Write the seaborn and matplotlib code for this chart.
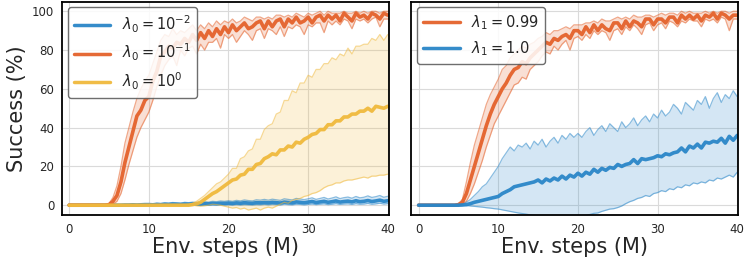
import numpy as np
import pandas as pd
import seaborn as sns
import matplotlib
matplotlib.use("Agg")
import matplotlib.pyplot as plt

# env steps in millions, one point every 0.5M
steps = np.arange(0, 40.5, 0.5)

# ---- left panel: lambda_0 sweep ----
# lambda_0 = 1e-2
l0_a_mean = [0] * 10 + [
    0, 0, 0, 0, 0.1, 0.1, 0.2, 0.1, 0.2, 0.3,
    0.3, 0.2, 0.4, 0.3, 0.5, 0.4, 0.6, 0.5, 0.4, 0.6,
    0.5, 0.7, 0.6, 0.5, 0.8, 0.7, 0.9, 0.8, 1.0, 0.9,
    1.1, 0.9, 1.2, 1.0, 1.3, 1.1, 1.0, 1.3, 1.2, 1.4,
    1.2, 1.5, 1.3, 1.1, 1.6, 1.4, 1.2, 1.7, 1.5, 1.3,
    1.6, 1.9, 1.4, 1.7, 2.0, 1.5, 1.8, 2.2, 1.6, 1.9,
    2.1, 1.7, 2.3, 1.8, 2.0, 2.4, 1.9, 2.2, 2.6, 2.0,
    2.3]
l0_a_lo = [0] * 20 + [
    0, 0, 0, 0, 0, 0, 0.1, 0, 0, 0.1,
    0, 0.1, 0, 0, 0.1, 0, 0.2, 0.1, 0.2, 0.1,
    0.2, 0.1, 0.3, 0.1, 0.3, 0.2, 0.1, 0.3, 0.2, 0.4,
    0.2, 0.4, 0.3, 0.1, 0.5, 0.3, 0.2, 0.5, 0.4, 0.2,
    0.4, 0.6, 0.3, 0.5, 0.7, 0.3, 0.5, 0.8, 0.4, 0.6,
    0.7, 0.4, 0.8, 0.5, 0.6, 0.9, 0.5, 0.7, 1.0, 0.6,
    0.8]
l0_a_hi = [0] * 10 + [
    0, 0, 0.1, 0.2, 0.3, 0.3, 0.5, 0.4, 0.6, 0.7,
    0.8, 0.6, 1.0, 0.8, 1.2, 1.0, 1.4, 1.2, 1.0, 1.5,
    1.3, 1.6, 1.4, 1.2, 1.8, 1.6, 2.0, 1.8, 2.2, 2.0,
    2.3, 2.0, 2.5, 2.2, 2.7, 2.4, 2.2, 2.8, 2.6, 3.0,
    2.6, 3.1, 2.8, 2.5, 3.3, 3.0, 2.7, 3.5, 3.2, 2.9,
    3.3, 3.8, 3.0, 3.5, 4.0, 3.2, 3.7, 4.3, 3.4, 3.9,
    4.2, 3.6, 4.5, 3.8, 4.1, 4.8, 4.0, 4.4, 5.0, 4.1,
    4.6]

# lambda_0 = 1e-1
l0_b_mean = [0] * 10 + [
    0.3, 2, 5, 12, 22, 30, 38, 46, 49, 54,
    56, 64, 69, 77, 79, 82, 81, 84, 83, 86,
    84, 88, 85, 89, 86, 90, 87, 91, 88, 92,
    89, 93, 90, 92, 94, 91, 92, 94, 95, 91,
    95, 92, 95, 96, 92, 96, 94, 97, 94, 95,
    97, 94, 97, 98, 95, 98, 96, 98, 95, 99,
    97, 95, 99, 97, 98, 96, 99, 98, 96, 99,
    98]
l0_b_lo = [0] * 10 + [
    0, 0.5, 2, 6, 13, 21, 28, 35, 40, 44,
    48, 54, 61, 67, 72, 75, 77, 72, 80, 77,
    81, 82, 78, 83, 80, 84, 84, 86, 81, 88,
    86, 88, 84, 87, 90, 88, 85, 90, 91, 86,
    91, 90, 88, 92, 87, 92, 91, 93, 92, 88,
    93, 92, 94, 94, 89, 95, 93, 95, 93, 96,
    95, 91, 96, 95, 96, 94, 96, 97, 92, 96,
    96]
l0_b_hi = [0] * 10 + [
    0.8, 4, 10, 20, 32, 40, 48, 55, 60, 64,
    67, 73, 79, 85, 88, 87, 91, 88, 90, 89,
    91, 93, 90, 93, 91, 94, 92, 95, 93, 95,
    94, 96, 94, 95, 97, 96, 95, 97, 97, 96,
    97, 96, 98, 98, 97, 98, 97, 99, 98, 97,
    99, 98, 99, 100, 98, 100, 99, 99, 99, 100,
    99, 99, 100, 99, 100, 99, 100, 100, 99, 100,
    100]

# lambda_0 = 1e0
l0_c_mean = [0] * 30 + [
    0, 0.3, 0.8, 1.5, 3, 4.5, 6, 7, 8.5, 10,
    11.5, 13, 13.5, 15.5, 16, 18.5, 18.5, 21, 21.5, 24,
    25, 26.5, 26, 28.5, 28.5, 30.5, 30, 32.5, 32, 34,
    35, 36.5, 37, 39, 39, 41.5, 41.5, 43.5, 43.5, 45.5,
    45.5, 47, 47, 48.5, 48.5, 50, 48.5, 51, 50.5, 50,
    51]
l0_c_lo = [0] * 30 + [
    0, 0, -0.3, -0.5, -0.3, 0, 0.5, 0.3, 0, -0.5,
    -1, -1.5, -1.2, -2, -1.5, -2.5, -2, -1.5, -2.5, -1.5,
    -1, -1.5, -0.5, 0.5, 1.5, 1, 2.5, 3, 3.5, 4.5,
    5, 6, 6.5, 7.5, 9, 10, 10.5, 11.5, 11.5, 12.5,
    13, 13, 13.5, 14, 14.5, 14, 15, 15, 15.5, 15.5,
    16]
l0_c_hi = [0] * 28 + [0.2, 0.3] + [
    0.5, 1, 2, 3.5, 5, 7, 9, 11, 12, 14,
    16, 19, 19, 24, 25, 28, 29, 34, 34, 39,
    41, 42, 47, 48, 54, 54, 59, 58, 63, 63,
    67, 66, 70, 70, 73, 73, 76, 75, 78, 77,
    81, 78, 82, 82, 83, 83, 86, 85, 88, 85,
    88]

# ---- right panel: lambda_1 sweep ----
# lambda_1 = 0.99
l1_a_mean = [0] * 10 + [
    0.3, 1.5, 6, 13, 20, 27, 34, 41, 47, 52,
    56, 60, 63, 67, 70, 71, 74, 73, 76, 78,
    80, 82, 84, 83, 86, 85, 87, 88, 86, 90,
    90, 88, 92, 89, 93, 90, 93, 91, 90, 94,
    94, 91, 95, 92, 95, 94, 92, 96, 96, 93,
    96, 96, 94, 97, 97, 94, 98, 96, 98, 96,
    98, 95, 98, 97, 99, 96, 99, 98, 96, 98,
    98]
l1_a_lo = [0] * 10 + [
    0, 0.5, 2, 6, 11, 17, 23, 30, 36, 42,
    46, 50, 54, 58, 62, 63, 66, 65, 70, 72,
    74, 77, 79, 78, 82, 80, 83, 85, 80, 86,
    87, 85, 88, 86, 90, 88, 90, 89, 85, 90,
    91, 88, 92, 90, 93, 91, 88, 93, 94, 90,
    93, 94, 91, 95, 94, 92, 95, 94, 96, 95,
    95, 92, 96, 95, 96, 94, 97, 96, 90, 96,
    96]
l1_a_hi = [0] * 10 + [
    0.8, 3, 12, 22, 31, 38, 45, 52, 57, 61,
    65, 70, 72, 76, 78, 80, 82, 81, 83, 84,
    86, 87, 89, 88, 90, 90, 91, 92, 91, 93,
    93, 93, 94, 94, 95, 94, 96, 95, 95, 96,
    97, 96, 97, 96, 98, 97, 97, 98, 98, 97,
    98, 99, 98, 99, 99, 98, 100, 99, 100, 99,
    99, 99, 100, 99, 100, 99, 100, 100, 99, 100,
    100]

# lambda_1 = 1.0
l1_b_mean = [0] * 10 + [
    0, 0.1, 0.3, 0.8, 1.5, 2, 2.5, 3, 3.5, 4,
    4.5, 6, 7, 8, 9.5, 10, 10.5, 11, 11.5, 12,
    13, 11.5, 13.5, 12.5, 14, 13, 15, 13.5, 15.5, 14.5,
    16.5, 15, 17, 16, 18.5, 17, 19, 18, 19.5, 19,
    21, 20, 21, 21.5, 23.5, 21.5, 24, 23.5, 24, 24.5,
    25.5, 25, 26.5, 26, 27, 27.5, 29.5, 27.5, 30.5, 29.5,
    31.5, 29.5, 32.5, 32, 33, 32.5, 34.5, 32, 35.5, 33.5,
    36]
l1_b_lo = [0] * 10 + [
    0, 0, -0.2, -0.4, -0.6, -0.8, -1, -1.3, -1.5, -1.8,
    -2, -2.4, -2.8, -3.2, -3.6, -4, -4.3, -4.6, -5, -5.3,
    -5.6, -5.8, -6, -6.2, -6.3, -6.4, -6.5, -6.4, -6.3, -6,
    -6, -5.8, -5.4, -4.8, -4.2, -4, -3.2, -2.6, -2, -1.8,
    -1.2, -0.4, 0.8, 1.8, 2.5, 3.5, 4, 5, 4.5, 6,
    6.5, 7.5, 7, 8.5, 8, 9.5, 9, 10.5, 10, 11.5,
    11, 12, 11.5, 13, 12.5, 14, 13.5, 14.5, 15.5, 14.5,
    17]
l1_b_hi = [0] * 10 + [
    0, 0.5, 1.5, 3, 5, 7, 9.5, 11, 14, 17,
    20, 24, 27, 30, 28, 31, 30, 32, 29, 33,
    31, 34, 30, 33, 35, 32, 36, 34, 37, 35,
    37, 35, 38, 40, 36, 39, 41, 38, 42, 40,
    38, 43, 40, 42, 45, 41, 44, 46, 43, 47,
    45, 49, 46, 48, 52, 50, 47, 53, 51, 49,
    54, 52, 56, 50, 55, 58, 53, 57, 55, 59,
    56]

blue = "#2a86c8"
orange = "#e4622b"
yellow = "#f0b93c"

left_series = [
    (r"$\lambda_0 = 10^{-2}$", blue, l0_a_mean, l0_a_lo, l0_a_hi),
    (r"$\lambda_0 = 10^{-1}$", orange, l0_b_mean, l0_b_lo, l0_b_hi),
    (r"$\lambda_0 = 10^{0}$", yellow, l0_c_mean, l0_c_lo, l0_c_hi),
]
right_series = [
    (r"$\lambda_1 = 0.99$", orange, l1_a_mean, l1_a_lo, l1_a_hi),
    (r"$\lambda_1 = 1.0$", blue, l1_b_mean, l1_b_lo, l1_b_hi),
]

sns.set_style("whitegrid", {"axes.edgecolor": "black", "grid.color": "#dadada"})
plt.rcParams["font.family"] = ["DejaVu Sans"]

fig, axes = plt.subplots(1, 2, figsize=(7.47, 2.64), dpi=100, sharey=True)
fig.subplots_adjust(left=0.083, right=0.988, bottom=0.186, top=0.994, wspace=0.07)


def draw_panel(ax, series):
    for label, color, mean, lo, hi in series:
        df = pd.DataFrame({"step": steps, "mean": mean, "lo": lo, "hi": hi})
        ax.fill_between(df["step"], df["lo"], df["hi"], color=color, alpha=0.2, linewidth=0)
        sns.lineplot(data=df, x="step", y="lo", ax=ax, color=color, alpha=0.55, linewidth=0.9)
        sns.lineplot(data=df, x="step", y="hi", ax=ax, color=color, alpha=0.55, linewidth=0.9)
        sns.lineplot(data=df, x="step", y="mean", ax=ax, color=color, alpha=0.95,
                     linewidth=2.6, label=label)
    ax.set_xlim(-0.9, 40.1)
    ax.set_ylim(-5, 105)
    ax.set_xticks([0, 10, 20, 30, 40])
    ax.set_yticks([0, 20, 40, 60, 80, 100])
    ax.tick_params(labelsize=8.5, pad=2)
    ax.set_xlabel("Env. steps (M)", fontsize=15, labelpad=1)
    for sp in ax.spines.values():
        sp.set_linewidth(1.3)
        sp.set_color("black")
    leg = ax.legend(loc="upper left", fontsize=10.5, handlelength=2.5, framealpha=0.85,
                    borderaxespad=0.4)
    leg.get_frame().set_edgecolor("#555555")
    for line in leg.get_lines():
        line.set_linewidth(2.5)


draw_panel(axes[0], left_series)
draw_panel(axes[1], right_series)
axes[0].set_ylabel("Success (%)", fontsize=15, labelpad=4)
axes[1].set_ylabel("")

fig.savefig("out.png", dpi=100)
